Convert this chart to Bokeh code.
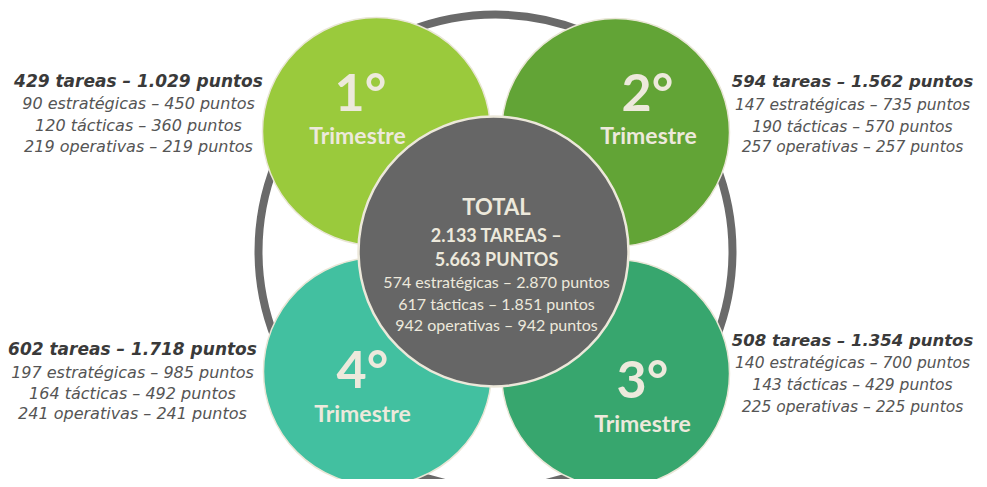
from bokeh.plotting import figure
from bokeh.models import Range1d
from bokeh.embed import file_html
from bokeh.resources import INLINE
from bokeh.core.properties import value

# ---- data ----
quarters = ["1°", "2°", "3°", "4°"]
tareas = [429, 594, 508, 602]
puntos = [1029, 1562, 1354, 1718]
estrategicas = [90, 147, 140, 197]
estrategicas_pts = [450, 735, 700, 985]
tacticas = [120, 190, 143, 164]
tacticas_pts = [360, 570, 429, 492]
operativas = [219, 257, 225, 241]
operativas_pts = [219, 257, 225, 241]
total_tareas = 2133
total_puntos = 5663
total_estr = [574, 2870]
total_tact = [617, 1851]
total_oper = [942, 942]


def fmt(n):
    return f"{n:,}".replace(",", ".")


# ---- layout (screen-like coordinates, y downward) ----
W, H = 979, 479
p = figure(width=W, height=H, output_backend="svg", toolbar_location=None,
           x_range=Range1d(0, W), y_range=Range1d(H, 0),
           min_border=0, outline_line_color=None, background_fill_color="white",
           border_fill_color="white")
p.axis.visible = False
p.grid.visible = False

# outer ring
p.circle(x=[495], y=[251], radius=237, fill_color=None, line_color="#6a6a6a", line_width=8)

q_colors = ["#9aca3c", "#62a436", "#37a66e", "#42c0a0"]
q_cx = [376, 615, 615, 377]
q_cy = [131, 132, 373, 371]
p.circle(x=q_cx, y=q_cy, radius=114, fill_color=q_colors,
         line_color="#e9e6d6", line_width=1.5)

# center circle
p.circle(x=[493], y=[251], radius=135, fill_color="#666666",
         line_color="#ece8da", line_width=2.5)

cream = "#ede9dc"
num_x = [360, 647, 642, 362]
num_y = [90, 90, 377, 367]
tri_x = [357, 648, 642, 362]
tri_y = [134, 134, 422, 412]
p.text(x=num_x, y=num_y, text=quarters, text_align="center", text_baseline="middle",
       text_font=value("Lato"), text_font_style="bold", text_font_size="52px",
       text_color=cream)
p.text(x=tri_x, y=tri_y, text=["Trimestre"] * 4, text_align="center", text_baseline="middle",
       text_font=value("Lato"), text_font_style="bold", text_font_size="23px",
       text_color=cream)

# center texts
cx = 496
p.text(x=[cx], y=[206], text=["TOTAL"], text_align="center", text_baseline="middle",
       text_font=value("Lato"), text_font_style="bold", text_font_size="22px", text_color=cream)
p.text(x=[cx, cx], y=[234, 258],
       text=[f"{fmt(total_tareas)} TAREAS –", f"{fmt(total_puntos)} PUNTOS"],
       text_align="center", text_baseline="middle",
       text_font=value("Lato"), text_font_style="bold", text_font_size="18px", text_color=cream)
p.text(x=[cx] * 3, y=[281, 303, 324],
       text=[f"{fmt(total_estr[0])} estratégicas – {fmt(total_estr[1])} puntos",
             f"{fmt(total_tact[0])} tácticas – {fmt(total_tact[1])} puntos",
             f"{fmt(total_oper[0])} operativas – {fmt(total_oper[1])} puntos"],
       text_align="center", text_baseline="middle",
       text_font=value("Lato"), text_font_size="16px", text_color=cream)

# side texts
side_x = [138, 852, 852, 132]
side_y0 = [80, 81, 340, 348]
bold_size = ["17px", "16.5px", "16.5px", "17px"]
norm_size = ["16px", "15.5px", "15.5px", "16px"]
gaps = [[0, 23, 45, 66], [0, 23, 45, 65], [0, 22, 44, 66], [0, 24, 45, 65]]
for i in range(4):
    y = [side_y0[i] + g for g in gaps[i]]
    p.text(x=[side_x[i]], y=[y[0]], text=[f"{tareas[i]} tareas – {fmt(puntos[i])} puntos"],
           text_align="center", text_baseline="middle", text_font=value("DejaVu Sans"),
           text_font_style="bold italic", text_font_size=bold_size[i], text_color="#3a3a3a")
    p.text(x=[side_x[i]] * 3, y=y[1:],
           text=[f"{estrategicas[i]} estratégicas – {fmt(estrategicas_pts[i])} puntos",
                 f"{tacticas[i]} tácticas – {fmt(tacticas_pts[i])} puntos",
                 f"{operativas[i]} operativas – {fmt(operativas_pts[i])} puntos"],
           text_align="center", text_baseline="middle", text_font=value("DejaVu Sans"),
           text_font_style="italic", text_font_size=norm_size[i], text_color="#555555")

open("out.html", "w").write(file_html(p, INLINE))
